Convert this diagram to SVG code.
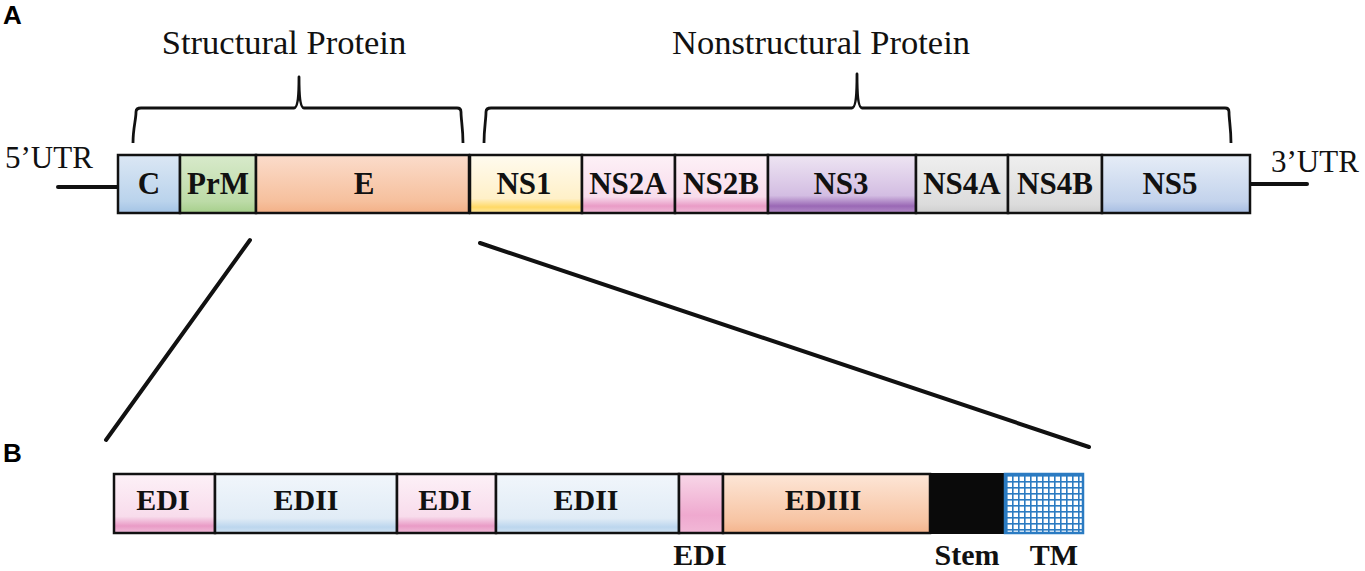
<svg xmlns="http://www.w3.org/2000/svg" width="1365" height="571" viewBox="0 0 1365 571">
<style>
.box{stroke:#111;stroke-width:2.5}
.lbl{font-family:"Liberation Serif",serif;font-weight:bold;font-size:31px;fill:#111;text-anchor:middle}
.lbl2{font-family:"Liberation Serif",serif;font-weight:bold;font-size:30px;fill:#111;text-anchor:middle}
.ttl{font-family:"Liberation Serif",serif;font-size:34.5px;fill:#111;text-anchor:middle}
.utr{font-family:"Liberation Serif",serif;font-size:31px;fill:#111}
.pan{font-family:"Liberation Sans",Arial,sans-serif;font-weight:bold;font-size:26px;fill:#000}
.ln{stroke:#111;stroke-width:4;fill:none;stroke-linecap:round}
.br{stroke:#111;stroke-width:2.8;fill:none;stroke-linejoin:round}
</style>
<defs>
<linearGradient id="gC" x1="0" y1="0" x2="0" y2="1"><stop offset="0" stop-color="#dbe7f4"/><stop offset="0.8" stop-color="#bad3ec"/><stop offset="1" stop-color="#a3c3e5"/></linearGradient>
<linearGradient id="gPrM" x1="0" y1="0" x2="0" y2="1"><stop offset="0" stop-color="#d8eacb"/><stop offset="0.8" stop-color="#bcdba7"/><stop offset="1" stop-color="#a6cf8b"/></linearGradient>
<linearGradient id="gE" x1="0" y1="0" x2="0" y2="1"><stop offset="0" stop-color="#fbdccb"/><stop offset="0.8" stop-color="#f6c09d"/><stop offset="1" stop-color="#f3b087"/></linearGradient>
<linearGradient id="gNS1" x1="0" y1="0" x2="0" y2="1"><stop offset="0" stop-color="#fffbef"/><stop offset="0.75" stop-color="#fff0c8"/><stop offset="0.9" stop-color="#ffd966"/><stop offset="1" stop-color="#ffe8a0"/></linearGradient>
<linearGradient id="gPink" x1="0" y1="0" x2="0" y2="1"><stop offset="0" stop-color="#fdf1f7"/><stop offset="0.72" stop-color="#f8dcec"/><stop offset="0.88" stop-color="#e99bc6"/><stop offset="1" stop-color="#f1bcd9"/></linearGradient>
<linearGradient id="gNS3" x1="0" y1="0" x2="0" y2="1"><stop offset="0" stop-color="#eee5f3"/><stop offset="0.7" stop-color="#d3bde2"/><stop offset="0.88" stop-color="#9a68b5"/><stop offset="1" stop-color="#b48dc9"/></linearGradient>
<linearGradient id="gNS4" x1="0" y1="0" x2="0" y2="1"><stop offset="0" stop-color="#efefef"/><stop offset="0.85" stop-color="#dcdcdc"/><stop offset="1" stop-color="#cfcfcf"/></linearGradient>
<linearGradient id="gNS5" x1="0" y1="0" x2="0" y2="1"><stop offset="0" stop-color="#e6edf7"/><stop offset="0.8" stop-color="#c3d3ec"/><stop offset="1" stop-color="#a6bde2"/></linearGradient>
<linearGradient id="gEDII" x1="0" y1="0" x2="0" y2="1"><stop offset="0" stop-color="#f1f6fb"/><stop offset="0.75" stop-color="#e1ecf6"/><stop offset="0.9" stop-color="#bcd6ee"/><stop offset="1" stop-color="#d0e2f2"/></linearGradient>
<linearGradient id="gEDIs" x1="0" y1="0" x2="0" y2="1"><stop offset="0" stop-color="#f8d7e8"/><stop offset="0.7" stop-color="#efa9cf"/><stop offset="1" stop-color="#f2b8d7"/></linearGradient>
<linearGradient id="gEDIII" x1="0" y1="0" x2="0" y2="1"><stop offset="0" stop-color="#fde6d7"/><stop offset="0.8" stop-color="#f7c4a3"/><stop offset="1" stop-color="#f4b48d"/></linearGradient>
<pattern id="grid" x="1006" y="475" width="6" height="6" patternUnits="userSpaceOnUse"><rect width="6" height="6" fill="#2b7bc2"/><rect x="1.6" y="1.6" width="4.4" height="4.4" fill="#fff"/></pattern>
</defs>

<text class="pan" x="3" y="24">A</text>
<text class="pan" x="3" y="462">B</text>

<text class="ttl" x="284" y="54">Structural Protein</text>
<text class="ttl" x="821" y="54">Nonstructural Protein</text>
<text class="utr" x="5" y="168">5’UTR</text>
<text class="utr" x="1271" y="172">3’UTR</text>

<g id="connectors">
<path class="br" d="M133,143 C133,128 136,120 136,112 Q136,108 141,108 L294,108 Q299,108 299,77 Q299,108 304,108 L457,108 Q461,108 461,112 C461,120 463,128 463,143"/>
<path class="br" d="M484,143 C484,128 486,120 486,112 Q486,108 491,108 L852,108 Q857,108 857,74 Q857,108 862,108 L1225,108 Q1229,108 1229,112 C1229,120 1231,128 1231,143"/>
<line class="ln" x1="58" y1="187" x2="118" y2="187"/>
<line class="ln" x1="1250" y1="184" x2="1307" y2="184"/>
<line class="ln" x1="250" y1="240" x2="106" y2="440"/>
<line class="ln" x1="480" y1="243" x2="1089" y2="447"/>
</g>

<g id="C"><rect class="box" x="118" y="155" width="62" height="58" fill="url(#gC)"/><text class="lbl" x="149" y="194">C</text></g>
<g id="PrM"><rect class="box" x="180" y="155" width="76" height="58" fill="url(#gPrM)"/><text class="lbl" x="218" y="194">PrM</text></g>
<g id="E"><rect class="box" x="256" y="155" width="213" height="58" fill="url(#gE)"/><text class="lbl" x="364" y="194">E</text></g>
<g id="NS1"><rect class="box" x="470" y="155" width="112" height="58" fill="url(#gNS1)"/><text class="lbl" x="524" y="194">NS1</text></g>
<g id="NS2A"><rect class="box" x="582" y="155" width="93" height="58" fill="url(#gPink)"/><text class="lbl" x="628" y="194">NS2A</text></g>
<g id="NS2B"><rect class="box" x="675" y="155" width="93" height="58" fill="url(#gPink)"/><text class="lbl" x="721" y="194">NS2B</text></g>
<g id="NS3"><rect class="box" x="768" y="155" width="148" height="58" fill="url(#gNS3)"/><text class="lbl" x="841" y="194">NS3</text></g>
<g id="NS4A"><rect class="box" x="916" y="155" width="92" height="58" fill="url(#gNS4)"/><text class="lbl" x="962" y="194">NS4A</text></g>
<g id="NS4B"><rect class="box" x="1008" y="155" width="94" height="58" fill="url(#gNS4)"/><text class="lbl" x="1055" y="194">NS4B</text></g>
<g id="NS5"><rect class="box" x="1102" y="155" width="148" height="58" fill="url(#gNS5)"/><text class="lbl" x="1170" y="194">NS5</text></g>

<g id="EDI-1"><rect class="box" x="114" y="474" width="101" height="59" fill="url(#gPink)"/><text class="lbl2" x="163" y="510">EDI</text></g>
<g id="EDII-1"><rect class="box" x="215" y="474" width="182" height="59" fill="url(#gEDII)"/><text class="lbl2" x="306" y="510">EDII</text></g>
<g id="EDI-2"><rect class="box" x="397" y="474" width="99" height="59" fill="url(#gPink)"/><text class="lbl2" x="445" y="510">EDI</text></g>
<g id="EDII-2"><rect class="box" x="496" y="474" width="183" height="59" fill="url(#gEDII)"/><text class="lbl2" x="586" y="510">EDII</text></g>
<g id="EDI-3"><rect class="box" x="679" y="474" width="44" height="59" fill="url(#gEDIs)"/><text class="lbl2" x="700" y="565">EDI</text></g>
<g id="EDIII"><rect class="box" x="723" y="474" width="207" height="59" fill="url(#gEDIII)"/><text class="lbl2" x="823" y="510">EDIII</text></g>
<g id="Stem"><rect x="930" y="473" width="75" height="61" fill="#0a0a0a"/><text class="lbl2" x="967" y="565">Stem</text></g>
<g id="TM"><rect x="1005" y="474" width="78" height="59" fill="url(#grid)" stroke="#2b7bc2" stroke-width="2.5"/><text class="lbl2" x="1054" y="565">TM</text></g>
</svg>
